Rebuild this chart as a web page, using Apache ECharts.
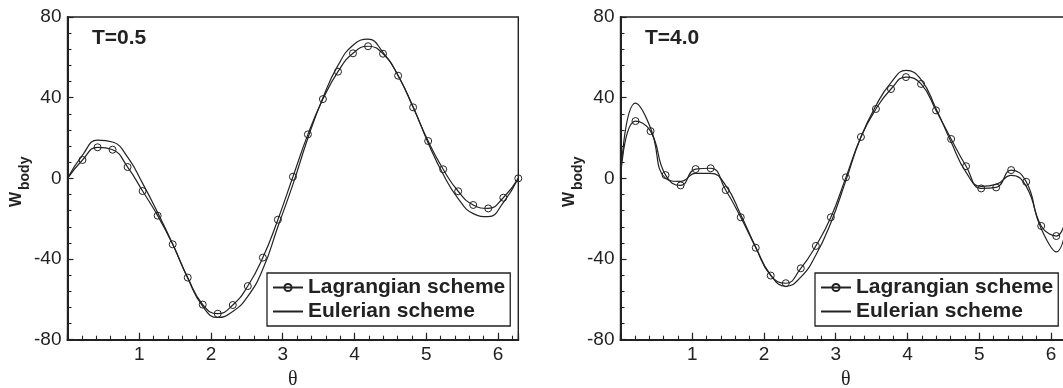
<!DOCTYPE html>
<html><head><meta charset="utf-8">
<script src="https://cdn.jsdelivr.net/npm/echarts@6/dist/echarts.min.js"></script>
<style>html,body{margin:0;padding:0;background:#fff}#c{width:1063px;height:388px}</style>
</head><body><div id="c"></div>
<script>
// theta sample positions (rad)
const theta = [0, 0.209, 0.419, 0.628, 0.838, 1.047, 1.257, 1.466, 1.676, 1.885, 2.094,
  2.304, 2.513, 2.723, 2.932, 3.142, 3.351, 3.560, 3.770, 3.979, 4.189,
  4.398, 4.608, 4.817, 5.027, 5.236, 5.445, 5.655, 5.864, 6.074, 6.283];

// Panel T=0.5
const lagT05 = [0, 9.1, 15.4, 14.2, 5.6, -6.3, -18.5, -32.7, -49.2, -62.6, -67.1,
  -62.8, -53.4, -39.3, -20.5, 0.8, 21.8, 39.3, 52.9, 62.0, 65.5,
  61.8, 50.9, 35.2, 18.5, 4.5, -6.4, -13.2, -14.9, -9.6, 0];
const eulT05 = [0, 11.5, 19.0, 18.0, 10.5, -2.5, -17, -32.5, -49.5, -63.5, -69,
  -66, -58.5, -45, -24, -3, 20, 40, 56, 66, 69,
  62.5, 51, 35.5, 17.5, 2, -10, -17.5, -19, -12, 0];

// Panel T=4.0
const lagT40 = [0, 28.4, 23.4, 1.6, -3.5, 4.6, 5.0, -5.8, -19.3, -34.4, -48.2,
  -52.0, -44.6, -33.5, -19.3, 0.5, 20.5, 34.4, 44.3, 50.2, 46.8,
  33.7, 19.5, 6.0, -5.0, -4.5, 4.1, -1.7, -23.6, -28.6, 0];
const eulT40 = [0, 37.3, 25, 0, -1.5, 2.5, 2.5, -3.5, -18, -34, -48,
  -53.5, -49, -38, -22, -1, 20.5, 36, 47.5, 53.5, 49,
  34.5, 18, 3, -4, -3, 1.5, -4, -25, -36.5, 0];

const xTickLabels = ['1', '2', '3', '4', '5', '6'];
const panelTitles = ['T=0.5', 'T=4.0'];
const seriesNames = ['Lagrangian scheme', 'Eulerian scheme'];
const yNameMain = 'W';
const yNameSub = 'body';

const INK = '#222';
const SANS = 'Liberation Sans, Arial, Helvetica, sans-serif';
const TWO_PI = 6.283185307179586;

const panels = [
  { left: 67.5, lag: lagT05, eul: eulT05, title: panelTitles[0], titleLeft: 92, legendLeft: 267 },
  { left: 620.5, lag: lagT40, eul: eulT40, title: panelTitles[1], titleLeft: 645, legendLeft: 815 }
];

const grid = [], xAxis = [], yAxis = [], series = [], title = [], legend = [], graphic = [];

panels.forEach((p, i) => {
  grid.push({ left: p.left, top: 17, width: 450.8, height: 322.7, show: true,
    borderColor: INK, borderWidth: 1.4, backgroundColor: 'transparent',
    containLabel: false, outerBoundsMode: 'none' });

  xAxis.push({
    type: 'value', gridIndex: i, min: 0, max: TWO_PI, interval: 1, position: 'bottom',
    axisLine: { onZero: false, lineStyle: { color: INK, width: 2 } },
    axisTick: { inside: true, length: 7, lineStyle: { color: INK, width: 1.2 } },
    axisLabel: { fontSize: 19, color: INK, fontFamily: SANS, margin: 6,
      formatter: v => { const s = String(v); return xTickLabels.indexOf(s) >= 0 ? s : ''; } },
    splitLine: { show: false },
    name: 'θ', nameLocation: 'middle', nameGap: 27,
    nameTextStyle: { fontFamily: 'Liberation Serif, Times New Roman, serif', fontSize: 20, color: INK }
  });
  xAxis.push({
    type: 'value', gridIndex: i, min: 0, max: TWO_PI, interval: 0.2, position: 'bottom',
    axisLine: { show: false, onZero: false },
    axisTick: { inside: true, length: 4, lineStyle: { color: INK, width: 1.1 } },
    axisLabel: { show: false }, splitLine: { show: false }
  });

  yAxis.push({
    type: 'value', gridIndex: i, min: -80, max: 80, interval: 40, position: 'left',
    axisLine: { onZero: false, lineStyle: { color: INK, width: 2 } },
    axisTick: { inside: true, length: 6, lineStyle: { color: INK, width: 1.2 } },
    minorTick: { show: true, splitNumber: 5, length: 4, lineStyle: { color: INK, width: 1.1 } },
    axisLabel: { fontSize: 19, color: INK, fontFamily: SANS, margin: 6 },
    splitLine: { show: false }
  });

  // rotated y-axis title W_body (text, placed beside the axis)
  graphic.push({
    type: 'group', x: p.left - 46.5, y: 179, rotation: Math.PI / 2, silent: true,
    children: [
      { type: 'text', x: -28, y: 3.4, style: { text: yNameMain, fill: INK,
          font: 'bold 16px "Liberation Sans", Arial, sans-serif', align: 'left', verticalAlign: 'bottom' } },
      { type: 'text', x: -11, y: 11, style: { text: yNameSub, fill: INK,
          font: 'bold 14px "Liberation Sans", Arial, sans-serif', align: 'left', verticalAlign: 'bottom' } }
    ]
  });

  const lagData = theta.map((t, k) => k === 0 ? { value: [t, p.lag[k]], symbol: 'none' } : [t, p.lag[k]]);
  const eulData = theta.map((t, k) => [t, p.eul[k]]);

  series.push({
    name: seriesNames[0], type: 'line', xAxisIndex: 2 * i, yAxisIndex: i,
    data: lagData, smooth: true, symbol: 'circle', symbolSize: 7, showSymbol: true,
    itemStyle: { color: 'rgba(255,255,255,0)', borderColor: INK, borderWidth: 1 },
    lineStyle: { color: INK, width: 1.2 }, emphasis: { disabled: true }, z: 3
  });
  series.push({
    name: seriesNames[1], type: 'line', xAxisIndex: 2 * i, yAxisIndex: i,
    data: eulData, smooth: true, symbol: 'none', showSymbol: false,
    itemStyle: { color: INK },
    lineStyle: { color: INK, width: 1.2 }, emphasis: { disabled: true }, z: 2
  });

  title.push({ text: p.title, left: p.titleLeft, top: 28, padding: 0,
    textStyle: { fontSize: 21, fontWeight: 'bold', color: INK, fontFamily: SANS } });

  legend.push({
    data: [seriesNames[0], { name: seriesNames[1], itemStyle: { opacity: 0 } }],
    left: p.legendLeft, top: 273, orient: 'vertical',
    itemWidth: 30, itemHeight: 9, itemGap: 3, padding: [4, 5, 4, 5],
    borderColor: INK, borderWidth: 1.3, backgroundColor: '#fff', selectedMode: false,
    textStyle: { fontSize: 21, fontWeight: 'bold', color: INK, fontFamily: SANS }
  });
});

const chart = echarts.init(document.getElementById('c'), null, { renderer: 'canvas' });
chart.setOption({ animation: false, backgroundColor: '#fff', grid, xAxis, yAxis, series, title, legend, graphic, tooltip: { show: false } });
</script>
</body></html>
